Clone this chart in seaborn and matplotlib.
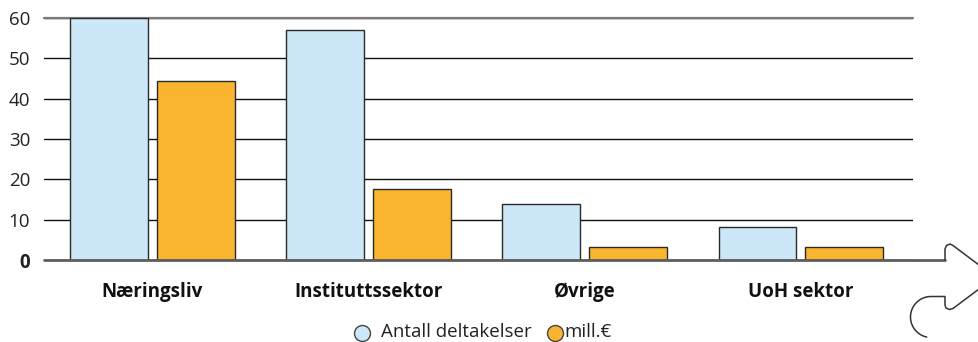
import numpy as np
import pandas as pd
import seaborn as sns
import matplotlib.pyplot as plt
from matplotlib.lines import Line2D

# Data
sectors = ["Næringsliv", "Instituttssektor", "Øvrige", "UoH sektor"]
series_names = ["Antall deltakelser", "mill.€"]
deltakelser = [60, 57, 14, 8.2]
mill_euro = [44.3, 17.6, 3.2, 3.2]
y_ticks = [0, 10, 20, 30, 40, 50, 60]

colors = {"Antall deltakelser": "#CCE7F8", "mill.€": "#F9B530"}

df = pd.DataFrame({
    "sektor": sectors * 2,
    "serie": [series_names[0]] * len(sectors) + [series_names[1]] * len(sectors),
    "verdi": deltakelser + mill_euro,
})

sns.set_theme(style="white")
plt.rcParams["font.family"] = ["Open Sans", "DejaVu Sans"]

W, H = 979, 342
fig = plt.figure(figsize=(W / 100, H / 100), dpi=100)
ax = fig.add_axes([44 / W, 1 - 260 / H, (913 - 44) / W, (260 - 18) / H])

sns.barplot(data=df, x="sektor", y="verdi", hue="serie", order=sectors,
            hue_order=series_names, palette=colors, saturation=1,
            width=0.8, gap=0.1, edgecolor="#2a2a2a", linewidth=1.0,
            legend=False, ax=ax, zorder=3)

ax.set_xlim(-0.502, 3.52)
ax.set_ylim(0, 60)
ax.set_yticks(y_ticks)
ax.set_xlabel("")
ax.set_ylabel("")
for s in ax.spines.values():
    s.set_visible(False)

ax.yaxis.grid(True, color="#111111", linewidth=1.0, zorder=0)
ax.xaxis.grid(False)
ax.set_axisbelow(True)
ax.axhline(60, color="#7a7a7a", linewidth=1.6, zorder=2, clip_on=False)

ax.tick_params(axis="y", length=0, pad=10, labelsize=13.5, labelcolor="#222222")
ax.tick_params(axis="x", length=0, pad=16, labelsize=13.5, labelcolor="#111111")
for lbl in ax.get_xticklabels():
    lbl.set_fontweight("bold")
ax.get_yticklabels()[0].set_fontweight("bold")

def fx(px):
    return px / W

def fy(py):
    return 1 - py / H

# Baseline running out into the arrow
fig.add_artist(Line2D([fx(44), fx(945)], [fy(260), fy(260)], color="#5e5e5e",
                      linewidth=2.0, zorder=5))

# Arrow outline on the right
arrow_px = [(945, 260), (945, 249), (946.5, 245.5), (950, 244), (953, 245.5),
            (995, 277), (953, 308.5), (949.5, 309.5), (946, 308), (945, 305),
            (945, 296.5), (931, 296.5)]
theta = np.radians(np.linspace(90, 258, 40))
cx, cy, r = 931, 317, 20.5
arc_px = [(cx + r * np.cos(t), cy - r * np.sin(t)) for t in theta]
pts = arrow_px + arc_px
fig.add_artist(Line2D([fx(p[0]) for p in pts], [fy(p[1]) for p in pts],
                      color="#333333", linewidth=1.1, zorder=5))

# Legend
legend_items = [(362, "Antall deltakelser", 381), (555, "mill.€", 564)]
for (mx, name, tx) in legend_items:
    fig.add_artist(Line2D([fx(mx)], [fy(333)], marker="o", markersize=11.5,
                          markerfacecolor=colors[name], markeredgecolor="#444444",
                          markeredgewidth=1.0, linestyle="none"))
    fig.text(fx(tx), fy(332), name, ha="left", va="center", fontsize=13.5,
             color="#222222")

fig.savefig("out.png", dpi=100)
